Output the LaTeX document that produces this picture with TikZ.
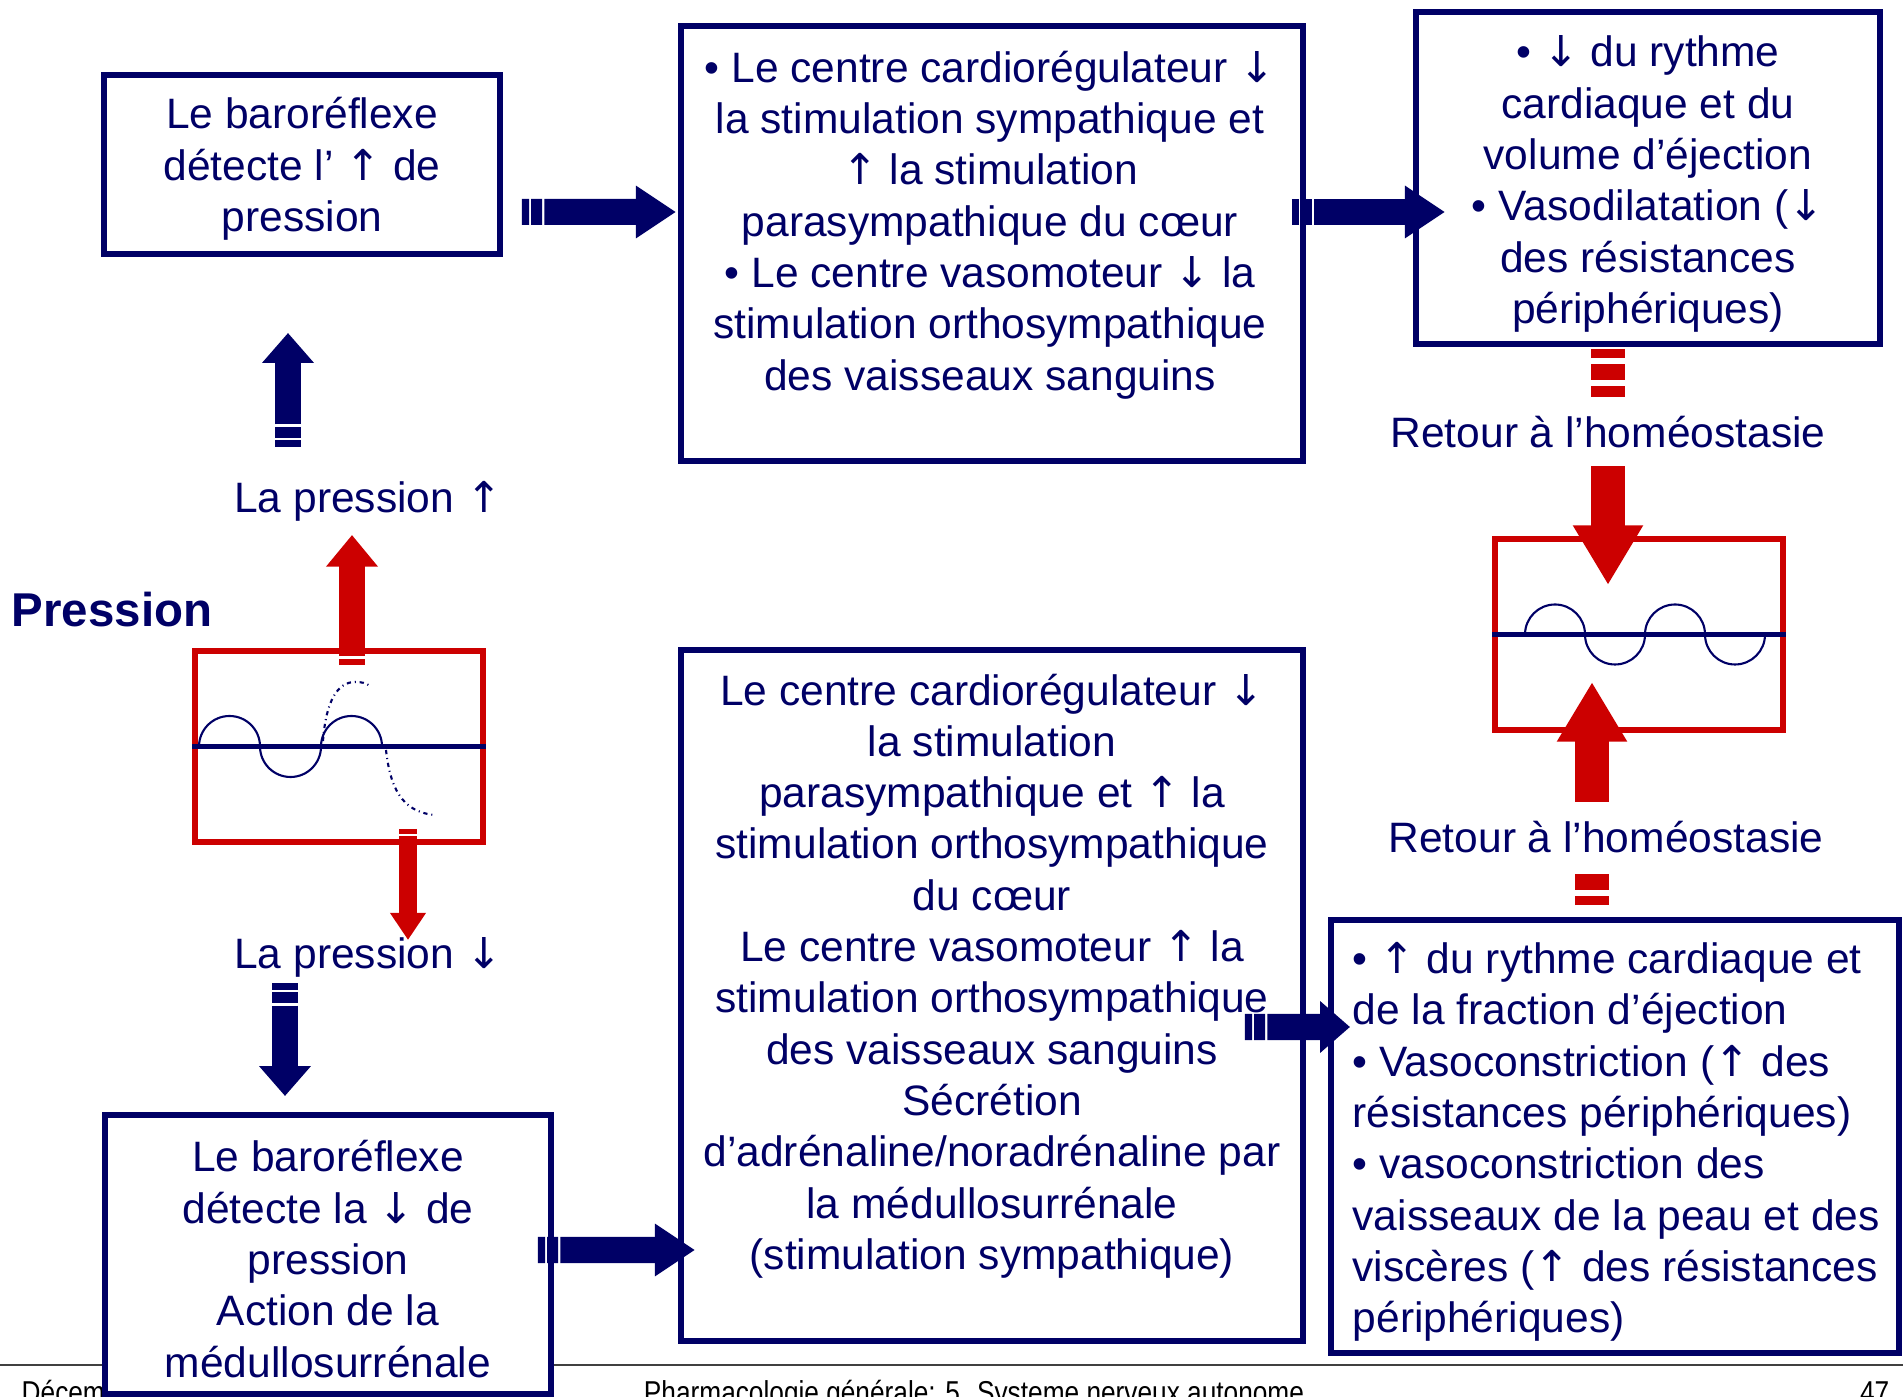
\documentclass[tikz,border=0pt]{standalone}
\usepackage{fontspec}
\setmainfont{Liberation Sans}
\newfontfamily\footfont[FakeStretch=0.83]{Liberation Sans}
\newfontfamily\flechefont{DejaVu Sans}
\usetikzlibrary{arrows.meta,calc}

\definecolor{navy}{RGB}{0,0,102}
\definecolor{rouge}{RGB}{204,0,0}

\newcommand{\hausse}{{\flechefont ↑}}
\newcommand{\baisse}{{\flechefont ↓}}

\tikzset{
  cadre/.style={draw=navy,line width=1.7pt,fill=white,inner sep=0pt},
  texte/.style={text=navy,align=center,inner sep=0pt,font=\fontsize{12.1}{14.6}\selectfont},
  onde/.style={draw=rouge,line width=1.7pt,minimum width=28.8mm,minimum height=19.1mm,inner sep=0pt},
  trace/.style={navy,line width=0.6pt},
  fleche/.style={navy,line width=7.4pt,-{Triangle[length=#1,width=14.2pt]},dash pattern=on 2pt off 0.6pt on 3.1pt off 0.7pt on 400pt},
  fleche/.default=8.5pt,
  flecherouge/.style={rouge,line width=9.7pt,-{Triangle[length=17pt,width=18.8pt]},dash pattern=on 2.6pt off 1.7pt on 4.6pt off 1.7pt on 400pt},
  retour/.style={texte,fill=white,minimum height=19.6pt},
}

\begin{document}
\begin{tikzpicture}[x=0.1mm,y=-0.1mm]
\useasboundingbox (0,0) rectangle (1903,1397);

% bas de page
\draw[black!75,line width=0.6pt] (0,1365) -- (1903,1365);
\node[anchor=base west,inner sep=0pt,font=\footfont\fontsize{9}{10}\selectfont] (date) at (21,1403) {Décem};
\node[anchor=base,inner sep=0pt,font=\footfont\fontsize{9}{10}\selectfont] (titre) at (974,1403) {Pharmacologie générale: 5. Systeme nerveux autonome};
\node[anchor=base east,inner sep=0pt,font=\footfont\fontsize{9}{10}\selectfont] (page) at (1890,1403) {47};

% cadres
\node[cadre,minimum width=39.6mm,minimum height=17.9mm] (detecthaut) at (302,164.5) {};
\node[texte] (detecthauttxt) at (302,169) {Le baroréflexe\\détecte l’ \hausse{} de\\pression};
\node[cadre,minimum width=62.2mm,minimum height=43.5mm] (centrehaut) at (992,243.5) {};
\node[texte] (centrehauttxt) at (990,225) {• Le centre cardiorégulateur \baisse\\la stimulation sympathique et\\\hausse{} la stimulation\\parasympathique du cœur\\• Le centre vasomoteur \baisse{} la\\stimulation orthosympathique\\des vaisseaux sanguins};
\node[cadre,minimum width=46.4mm,minimum height=33.2mm] (effetshaut) at (1648,178) {};
\node[texte] (effetshauttxt) at (1648,184) {• \baisse{} du rythme\\cardiaque et du\\volume d’éjection\\• Vasodilatation (\baisse\\des résistances\\périphériques)};
\node[cadre,minimum width=44.6mm,minimum height=27.9mm] (detectbas) at (328,1254.5) {};
\node[texte] (detectbastxt) at (328,1259) {Le baroréflexe\\détecte la \baisse{} de\\pression\\Action de la\\médullosurrénale};
\node[cadre,minimum width=62.2mm,minimum height=69.1mm] (centrebas) at (992,995.5) {};
\node[texte] (centrebastxt) at (992,976) {Le centre cardiorégulateur \baisse\\la stimulation\\parasympathique et \hausse{} la\\stimulation orthosympathique\\du cœur\\Le centre vasomoteur \hausse{} la\\stimulation orthosympathique\\des vaisseaux sanguins\\Sécrétion\\d’adrénaline/noradrénaline par\\la médullosurrénale\\(stimulation sympathique)};
\node[cadre,minimum width=56.8mm,minimum height=43.3mm] (effetsbas) at (1615,1136.5) {};
\node[texte,align=left,anchor=west] (effetsbastxt) at (1352,1142) {• \hausse{} du rythme cardiaque et\\de la fraction d’éjection\\• Vasoconstriction (\hausse{} des\\résistances périphériques)\\• vasoconstriction des\\vaisseaux de la peau et des\\viscères (\hausse{} des résistances\\périphériques)};

% etiquettes
\node[texte] (phaut) at (368,501) {La pression \hausse};
\node[texte] (pbas) at (368,957) {La pression \baisse};
\node[text=navy,inner sep=0pt,font=\bfseries\fontsize{13.5}{16}\selectfont] (pression) at (112,610) {Pression};

% ondes
\node[onde] (ondep) at (339,746.5) {};
\draw[navy,line width=1.7pt] (ondep.west) -- (ondep.east);
\draw[trace] ($(ondep.west)+(7,0)$) arc[start angle=180,end angle=360,radius=30.5]
  arc[start angle=180,end angle=0,radius=30.5] arc[start angle=180,end angle=360,radius=30.5];
\draw[trace,dash pattern=on 1.2pt off 1.1pt on 0.3pt off 1.1pt] (323,741) .. controls (326,700) and (338,682) .. (355,682) .. controls (362,682) and (366,683) .. (370,686);
\draw[trace,dash pattern=on 1.2pt off 1.1pt on 0.3pt off 1.1pt] (386,750) .. controls (390,785) and (400,812) .. (435,815);

\node[onde] (ondeh) at (1639,634.5) {};
\draw[navy,line width=1.7pt] (ondeh.west) -- (ondeh.east);
\draw[trace] ($(ondeh.west)+(33,0)$) arc[start angle=180,end angle=360,radius=30]
  arc[start angle=180,end angle=0,radius=30] arc[start angle=180,end angle=360,radius=30]
  arc[start angle=180,end angle=0,radius=30];

% fleches
\draw[fleche=11.4pt] ($(detecthaut.east)+(19,47.5)$) -- ($(centrehaut.west)+(-2,-31.5)$);
\draw[fleche=11.4pt] ($(centrehaut.east)+(-14,-31.5)$) -- ($(effetshaut.west)+(32,34)$);
\draw[fleche] ($(centrebas.east)+(-61,31.5)$) -- ($(effetsbas.west)+(22,-109.5)$);
\draw[fleche=11.4pt] ($(detectbas.east)+(-16,-4.5)$) -- ($(centrebas.west)+(17,254.5)$);
\draw[fleche] ($(detecthaut.south)+(-14,190)$) -- ($(detecthaut.south)+(-14,76)$);
\draw[fleche] ($(detectbas.north)+(-43,-129)$) -- ($(detectbas.north)+(-43,-16)$);

\draw[rouge,line width=7.4pt,-{Triangle[length=9pt,width=14.2pt]},dash pattern=on 1.7pt off 0.85pt on 400pt] ($(ondep.north)+(13,17)$) -- ($(ondep.north)+(13,-113)$);
\draw[rouge,line width=5.1pt,-{Triangle[length=7.7pt,width=9.7pt]},dash pattern=on 1.4pt off 0.6pt on 400pt] ($(ondep.south)+(69,-16)$) -- ($(ondep.south)+(69,95)$);

\draw[flecherouge] ($(effetshaut.south)+(-40,2)$) -- node[pos=0.35,retour] (retourhaut) {Retour à l’homéostasie} ($(ondeh.north)+(-31,49)$);
\draw[flecherouge] ($(effetsbas.north)+(-23,-12)$) -- node[pos=0.306,retour,xshift=1.4mm] (retourbas) {Retour à l’homéostasie} ($(ondeh.south)+(-47,-51)$);
\end{tikzpicture}
\end{document}
